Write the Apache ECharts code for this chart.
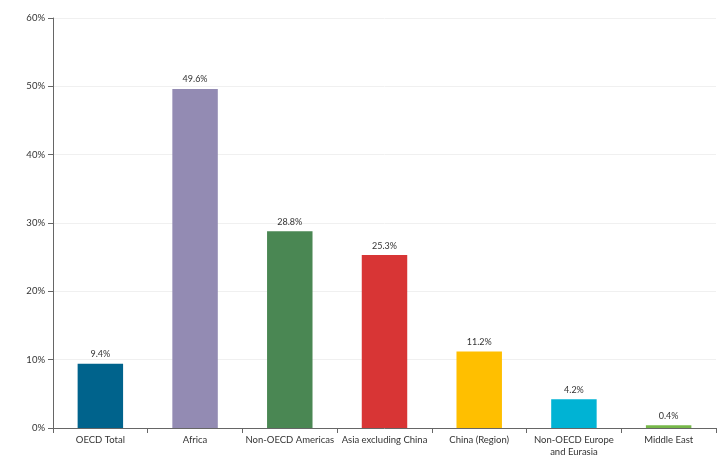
<!DOCTYPE html>
<html><head><meta charset="utf-8">
<script src="https://cdn.jsdelivr.net/npm/echarts@6/dist/echarts.min.js"></script>
<style>html,body{margin:0;padding:0;background:#fff}#c{width:720px;height:463px}</style>
</head><body><div id="c"></div>
<script>
const categories = ["OECD Total","Africa","Non-OECD Americas","Asia excluding China","China (Region)","Non-OECD Europe\nand Eurasia","Middle East"];
const values = [9.4, 49.6, 28.8, 25.3, 11.2, 4.2, 0.4];
const colors = ["#00638c","#938bb3","#4a8753","#d83535","#ffbf00","#00b3d4","#77b84a"];
const yTicks = [0,10,20,30,40,50,60];

const chart = echarts.init(document.getElementById('c'));
chart.setOption({
  animation:false,
  textStyle:{fontFamily:'Lato, "Open Sans", sans-serif'},
  grid:{left:53,right:4,top:18,bottom:35},
  xAxis:{type:'category',data:categories,
    axisLine:{lineStyle:{color:'#666'}},
    axisTick:{show:true,length:5,lineStyle:{color:'#666'}},
    axisLabel:{color:'#333',fontSize:9.5,interval:0,margin:6,lineHeight:12}},
  yAxis:{type:'value',min:yTicks[0],max:yTicks[yTicks.length-1],interval:10,
    axisLine:{show:true,lineStyle:{color:'#666'}},
    axisTick:{show:true,length:5,lineStyle:{color:'#666'}},
    splitLine:{lineStyle:{color:'#f0f0f0'}},
    axisLabel:{color:'#333',fontSize:9.5,formatter:v=>v+'%'}},
  series:[{type:'bar',barWidth:'48%',
    data:values.map((v,i)=>({value:v,itemStyle:{color:colors[i]}})),
    label:{show:true,position:'top',color:'#333',fontSize:9,distance:5,formatter:p=>p.value.toFixed(1)+'%'}}]
});
</script></body></html>
